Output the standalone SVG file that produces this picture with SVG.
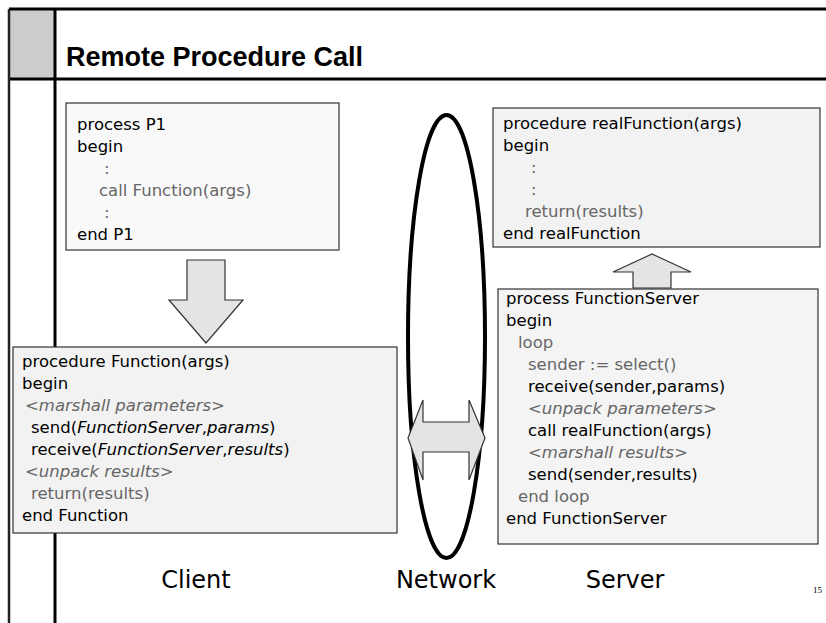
<svg xmlns="http://www.w3.org/2000/svg" width="826" height="623" viewBox="0 0 826 623">
<style>
.code{font-family:"DejaVu Sans","Liberation Sans",sans-serif;font-size:16.5px;fill:#000}
.g{fill:#666}
.i{font-style:italic}
.box{stroke:#333;stroke-width:1.2}
.arrow{fill:#e4e4e4;stroke:#333;stroke-width:1.2;stroke-linejoin:miter}
.lbl{font-family:"DejaVu Sans","Liberation Sans",sans-serif;font-size:24px;fill:#000;text-anchor:middle}
.frame{stroke:#000;stroke-width:3;fill:none}
</style>
<rect x="0" y="0" width="826" height="623" fill="#fff"/>
<g id="frame">
<rect x="9" y="9" width="46" height="70" fill="#cccccc"/>
<line class="frame" x1="9" y1="9" x2="826" y2="9"/>
<line class="frame" x1="9" y1="79" x2="826" y2="79"/>
<line x1="9" y1="9" x2="9" y2="623" stroke="#222" stroke-width="2.5"/>
<line class="frame" x1="55" y1="9" x2="55" y2="623"/>
<text x="66" y="66" font-family="'Liberation Sans',Arial,sans-serif" font-weight="bold" font-size="27" fill="#000">Remote Procedure Call</text>
<text x="813" y="593" font-family="'Liberation Serif',serif" font-size="9" fill="#000">15</text>
</g>
<g id="p1">
<rect class="box" x="66" y="103" width="273" height="147" fill="#f9f9f9"/>
<text class="code" x="77" y="130">process P1</text>
<text class="code" x="77" y="152">begin</text>
<text class="code g" x="104" y="174">:</text>
<text class="code g" x="99" y="196">call Function(args)</text>
<text class="code g" x="104" y="218">:</text>
<text class="code" x="77" y="240">end P1</text>
</g>
<g id="function">
<rect class="box" x="13" y="347" width="384" height="186" fill="#f2f2f2"/>
<text class="code" x="22" y="367">procedure Function(args)</text>
<text class="code" x="22" y="389">begin</text>
<text class="code g" x="25" y="411">&lt;<tspan class="i">marshall parameters</tspan>&gt;</text>
<text class="code" x="31" y="433">send(<tspan class="i">FunctionServer</tspan>,<tspan class="i">params</tspan>)</text>
<text class="code" x="31" y="455">receive(<tspan class="i">FunctionServer</tspan>,<tspan class="i">results</tspan>)</text>
<text class="code g" x="25" y="477">&lt;<tspan class="i">unpack results</tspan>&gt;</text>
<text class="code g" x="31" y="499">return(results)</text>
<text class="code" x="22" y="521">end Function</text>
</g>
<g id="realFunction">
<rect class="box" x="493" y="108" width="327" height="139" fill="#f2f2f2"/>
<text class="code" x="503" y="129">procedure realFunction(args)</text>
<text class="code" x="503" y="151">begin</text>
<text class="code g" x="531" y="173">:</text>
<text class="code g" x="531" y="195">:</text>
<text class="code g" x="525" y="217">return(results)</text>
<text class="code" x="503" y="239">end realFunction</text>
</g>
<g id="functionServer">
<rect class="box" x="498" y="289" width="320" height="255" fill="#f4f4f4"/>
<text class="code" x="506" y="304">process FunctionServer</text>
<text class="code" x="506" y="326">begin</text>
<text class="code g" x="518" y="348">loop</text>
<text class="code g" x="528" y="370">sender := select()</text>
<text class="code" x="528" y="392">receive(sender,params)</text>
<text class="code g" x="528" y="414">&lt;<tspan class="i">unpack parameters</tspan>&gt;</text>
<text class="code" x="528" y="436">call realFunction(args)</text>
<text class="code g" x="528" y="458">&lt;<tspan class="i">marshall results</tspan>&gt;</text>
<text class="code" x="528" y="480">send(sender,results)</text>
<text class="code g" x="518" y="502">end loop</text>
<text class="code" x="506" y="524">end FunctionServer</text>
</g>
<g id="network">
<ellipse cx="446.5" cy="336.5" rx="38.5" ry="221.5" fill="none" stroke="#000" stroke-width="4"/>
</g>
<g id="connectors">
<polygon class="arrow" points="187,260 225,260 225,300 243,300 206,343 169,300 187,300"/>
<polygon class="arrow" points="633,288 633,272 613,272 652,254 691,272 671,272 671,288"/>
<polygon class="arrow" points="408,438 423,400 423,422 469,422 469,400 485,438 469,480 469,452 423,452 423,480"/>
</g>
<g id="labels">
<text class="lbl" x="196" y="588">Client</text>
<text class="lbl" x="446" y="588">Network</text>
<text class="lbl" x="625" y="588">Server</text>
</g>
</svg>
